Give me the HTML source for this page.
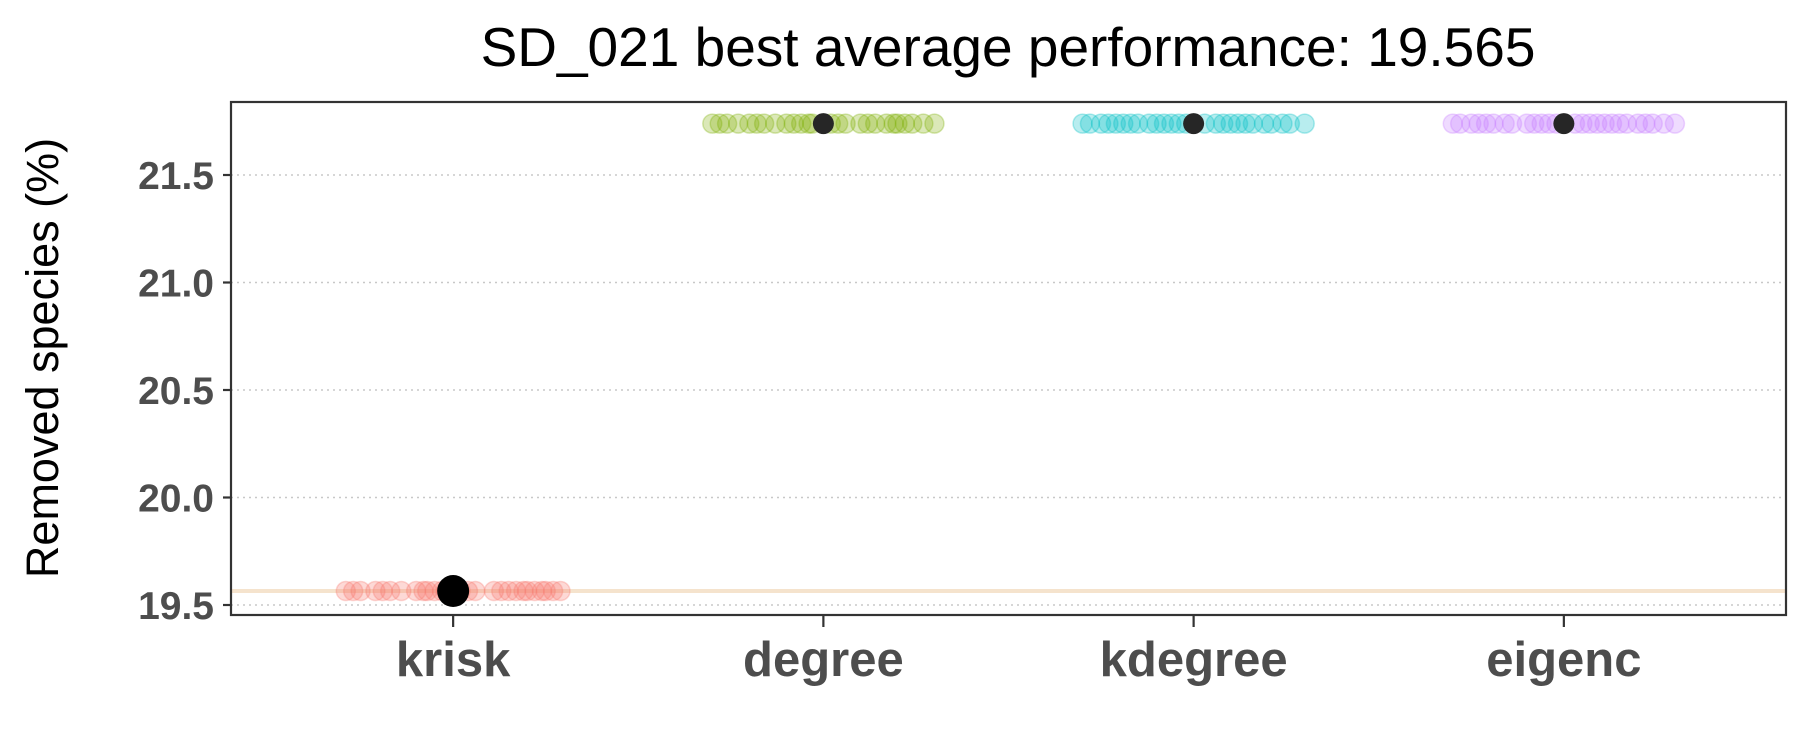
<!DOCTYPE html>
<html><head><meta charset="utf-8"><style>
html,body{margin:0;padding:0;background:#fff;}
svg{display:block;}
</style></head><body>
<svg id="chart" width="1800" height="750" viewBox="0 0 1800 750" xmlns="http://www.w3.org/2000/svg">
<text x="1008" y="66" text-anchor="middle" font-family="Liberation Sans, sans-serif" font-size="55" fill="#000">SD_021 best average performance: 19.565</text>
<text transform="translate(58,358) rotate(-90)" text-anchor="middle" font-family="Liberation Sans, sans-serif" font-size="45" fill="#000">Removed species (%)</text>
<g id="grid"></g>
<g id="refline"></g>
<g id="points"></g>
<rect x="231" y="102" width="1555" height="513" fill="none" stroke="#333" stroke-width="2.2"/>
<g id="yaxis"></g>
<g id="xaxis"></g>
</svg>
<script>
const categories = ["krisk","degree","kdegree","eigenc"];
const colors = ["#F8766D","#7CAE00","#00BFC4","#C77CFF"];
const pointValues = [19.565, 21.739, 21.739, 21.739];
const meanValues = [19.565, 21.739, 21.739, 21.739];
const bestValue = 19.565;
const yTicks = [19.5, 20.0, 20.5, 21.0, 21.5];
const yTickLabels = ["19.5","20.0","20.5","21.0","21.5"];
const jitter = [
 [-0.29,-0.27,-0.25,-0.21,-0.19,-0.17,-0.14,-0.1,-0.08,-0.07,-0.05,-0.03,-0.02,0.0,0.02,0.04,0.06,0.11,0.13,0.15,0.17,0.19,0.2,0.22,0.24,0.25,0.27,0.29],
 [-0.3,-0.28,-0.26,-0.23,-0.2,-0.18,-0.16,-0.13,-0.1,-0.08,-0.06,-0.04,-0.03,0.0,0.02,0.04,0.06,0.1,0.12,0.14,0.17,0.19,0.2,0.22,0.24,0.27,0.3],
 [-0.3,-0.28,-0.25,-0.23,-0.21,-0.19,-0.17,-0.15,-0.12,-0.1,-0.08,-0.06,-0.04,-0.02,0.0,0.03,0.06,0.08,0.1,0.12,0.14,0.16,0.19,0.21,0.24,0.26,0.3],
 [-0.3,-0.28,-0.25,-0.23,-0.21,-0.19,-0.16,-0.14,-0.1,-0.08,-0.06,-0.04,-0.02,0.0,0.03,0.05,0.07,0.09,0.11,0.13,0.15,0.17,0.2,0.22,0.24,0.27,0.3]
];
const NS="http://www.w3.org/2000/svg";
const L=231,R=1786,T=102,B=615;
function y(v){return 605-(v-19.5)*215;}
function x(i){return L+(i+0.6)*(R-L)/4.2;}
function el(tag,attrs,parent){const e=document.createElementNS(NS,tag);for(const k in attrs)e.setAttribute(k,attrs[k]);parent.appendChild(e);return e;}
const grid=document.getElementById('grid'),yaxis=document.getElementById('yaxis'),xaxis=document.getElementById('xaxis'),pts=document.getElementById('points'),ref=document.getElementById('refline');
yTicks.forEach((t,i)=>{
 const g=el('line',{x1:L,x2:R,y1:y(t),y2:y(t),stroke:'#c8c8c8','stroke-width':1.5,'stroke-dasharray':'2,4'},grid);
 
 
 const tk=el('line',{x1:L-8,x2:L,y1:y(t),y2:y(t),stroke:'#333','stroke-width':2.2},yaxis);
 
 
 const tx=el('text',{x:L-17,y:y(t)+14,'text-anchor':'end','font-family':'Liberation Sans, sans-serif','font-size':39,'font-weight':'bold',fill:'#4d4d4d'},yaxis);
 tx.textContent=yTickLabels[i];
 
 
});
const rl=el('line',{x1:L,x2:R,y1:y(bestValue),y2:y(bestValue),stroke:'#f2dcc0','stroke-opacity':0.8,'stroke-width':4},ref);


categories.forEach((c,i)=>{
 jitter[i].forEach(j=>{
  const p=el('circle',{cx:x(i+j),cy:y(pointValues[i]),r:9.5,fill:colors[i],'fill-opacity':0.28,stroke:colors[i],'stroke-opacity':0.3,'stroke-width':1.5},pts);
  
  
 });
 const big=i===0;
 const m=el('ellipse',{cx:x(i),cy:y(meanValues[i]),rx:big?16:10.5,ry:big?16:10.5,fill:big?'#000':'#262626'},pts);
 
 
 const tk=el('line',{x1:x(i),x2:x(i),y1:B,y2:B+12,stroke:'#333','stroke-width':2.2},xaxis);
 
 
 const tx=el('text',{x:x(i),y:676,'text-anchor':'middle','font-family':'Liberation Sans, sans-serif','font-size':49,'font-weight':'bold',fill:'#4d4d4d'},xaxis);
 tx.textContent=c;
 
 
});
</script>
</body></html>
